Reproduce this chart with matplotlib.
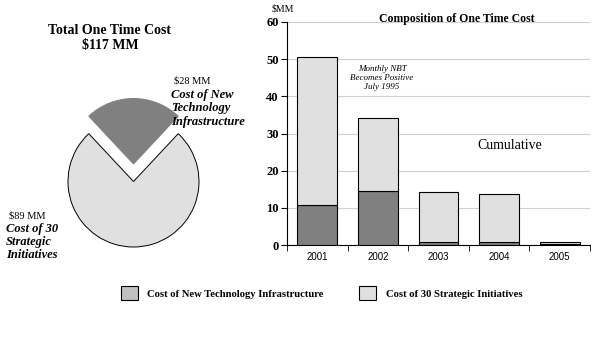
import matplotlib
matplotlib.use("Agg")
import matplotlib.pyplot as plt
import numpy as np
from matplotlib.patches import Patch

# pie data
pie_labels = ["Cost of New Technology Infrastructure", "Cost of 30 Strategic Initiatives"]
pie_values = [28, 89]
total_cost = 117

# bar data ($MM)
years = ["2001", "2002", "2003", "2004", "2005"]
tech_cost = [10.8, 14.6, 0.8, 0.8, 0.3]
initiative_cost = [39.8, 19.7, 13.5, 13.0, 0.5]

DARK = "#808080"
LIGHT = "#e0e0e0"
SERIF = "Liberation Serif"
SANS = "Liberation Sans"

W, H = 600, 341
fig = plt.figure(figsize=(6, 3.41), dpi=100)
fig.patch.set_facecolor("white")

# ---- pie (axes in pixel units) ----
ax_pie = fig.add_axes([0, 0, 260 / W, 1])
frac = pie_values[0] / total_cost * 360
wedges, _ = ax_pie.pie(pie_values, colors=[DARK, LIGHT], startangle=90 - frac / 2,
                       center=(133.5, H - 181.5), radius=65.5, explode=[17.5, 0],
                       wedgeprops=dict(linewidth=0.7), frame=True)
wedges[0].set_edgecolor(DARK)
wedges[1].set_edgecolor("black")
ax_pie.set_xlim(0, 260)
ax_pie.set_ylim(0, H)
ax_pie.set_aspect("auto")
ax_pie.axis("off")

fig.text(110 / W, 1 - 30 / H, "Total One Time Cost", ha="center", va="center",
         family=SERIF, fontsize=10, fontweight="bold")
fig.text(110 / W, 1 - 46 / H, f"${total_cost} MM", ha="center", va="center",
         family=SERIF, fontsize=10, fontweight="bold")

fig.text(174 / W, 1 - 81 / H, f"${pie_values[0]} MM", ha="left", va="center",
         family=SERIF, fontsize=7.5)
fig.text(171 / W, 1 - 89 / H, "Cost of New\nTechnology\nInfrastructure", ha="left", va="top",
         family=SERIF, fontsize=9, fontstyle="italic", fontweight="bold", linespacing=1.15)
fig.text(9 / W, 1 - 216 / H, f"${pie_values[1]} MM", ha="left", va="center",
         family=SERIF, fontsize=7.5)
fig.text(6 / W, 1 - 223 / H, "Cost of 30\nStrategic\nInitiatives", ha="left", va="top",
         family=SERIF, fontsize=9, fontstyle="italic", fontweight="bold", linespacing=1.1)

# ---- stacked bars ----
ax = fig.add_axes([287 / W, 1 - 245 / H, 303 / W, 223 / H])
x = np.arange(len(years))
ax.bar(x, tech_cost, width=0.66, color=DARK, edgecolor="black", linewidth=0.8, zorder=3)
ax.bar(x, initiative_cost, width=0.66, bottom=tech_cost, color=LIGHT,
       edgecolor="black", linewidth=0.8, zorder=3)

ax.set_xlim(-0.5, len(years) - 0.5)
ax.set_ylim(0, 60)
ax.set_yticks(range(0, 61, 10))
ax.set_yticklabels([str(v) for v in range(0, 61, 10)], family=SERIF,
                   fontsize=9, fontweight="bold")
ax.set_xticks(x)
ax.set_xticklabels(years, family=SANS, fontsize=7)
ax.set_xticks(np.arange(-0.5, len(years)), minor=True)
ax.tick_params(axis="x", which="major", length=0, pad=5)
ax.tick_params(axis="x", which="minor", length=4, direction="out")
ax.tick_params(axis="y", length=4, direction="out", pad=2)
ax.grid(axis="y", color="#d0d0d0", linewidth=0.8, zorder=0)
for s in ["top", "right"]:
    ax.spines[s].set_visible(False)

fig.text(457 / W, 1 - 19 / H, "Composition of One Time Cost", ha="center", va="center",
         family=SERIF, fontsize=8.5, fontweight="bold")
fig.text(272 / W, 1 - 9 / H, "$MM", ha="left", va="center", family=SERIF, fontsize=7)
fig.text(382 / W, 1 - 78 / H, "Monthly NBT\nBecomes Positive\nJuly 1995", ha="center",
         va="center", family=SERIF, fontsize=6.5, fontstyle="italic", linespacing=1.15)
fig.text(510 / W, 1 - 145 / H, "Cumulative", ha="center", va="center",
         family=SERIF, fontsize=10)

# ---- legend ----
handles = [Patch(facecolor="#c0c0c0", edgecolor="black", linewidth=0.8),
           Patch(facecolor=LIGHT, edgecolor="black", linewidth=0.8)]
fig.legend(handles, pie_labels, loc="center left", bbox_to_anchor=(111 / W, 1 - 293 / H),
           ncol=2, frameon=False, handlelength=1.6, handleheight=1.6, handletextpad=0.9,
           columnspacing=3.3, prop=dict(family=SERIF, size=7.7, weight="bold"))

fig.savefig("out.png", dpi=100)
